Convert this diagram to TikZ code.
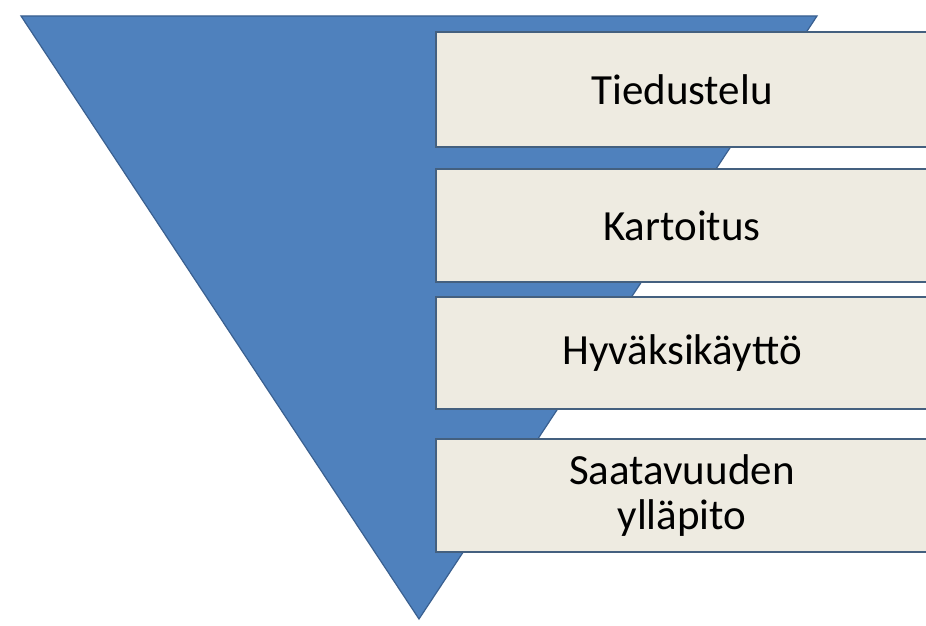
\documentclass[tikz,border=0pt]{standalone}
\usepackage{fontspec}
\setmainfont{Carlito}
\definecolor{funnelblue}{HTML}{4F81BD}
\definecolor{funneledge}{HTML}{3A6090}
\definecolor{boxfill}{HTML}{EEEBE1}
\definecolor{boxedge}{HTML}{44607F}
\begin{document}
\begin{tikzpicture}[x=1pt,y=1pt,
  stagebox/.style={draw=boxedge, line width=2pt, fill=boxfill, anchor=south west,
    minimum width=492pt, inner sep=0pt, align=center, text=black,
    font=\fontsize{43}{45}\selectfont}]
\useasboundingbox (0,0) rectangle (926,626);
\fill[white] (0,0) rectangle (926,626);
\coordinate (tl) at (21,610);
\coordinate (tr) at (817,610);
\coordinate (apex) at (419,7);
\filldraw[fill=funnelblue, draw=funneledge, line width=1.2pt, line join=miter] (tl) -- (tr) -- (apex) -- cycle;
\node[stagebox, minimum height=115pt] (s1) at (435,478) {Tiedustelu};
\node[stagebox, minimum height=113pt] (s2) at (435,343) {Kartoitus};
\node[stagebox, minimum height=112pt] (s3) at (435,216) {Hyväksikäyttö};
\node[stagebox, minimum height=113pt] (s4) at (435,73) {Saatavuuden\\ylläpito};
\end{tikzpicture}
\end{document}
